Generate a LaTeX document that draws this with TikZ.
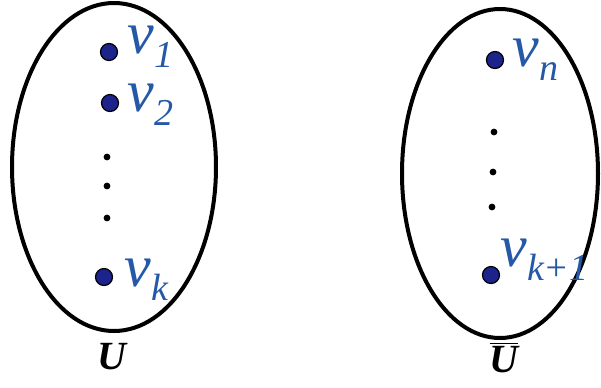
\documentclass[tikz,border=0pt]{standalone}
\usepackage{fontspec}
\setmainfont{Liberation Serif}
\usetikzlibrary{shapes.geometric}
\definecolor{lblblue}{RGB}{38,88,168}
\definecolor{dotblue}{RGB}{28,36,140}
\newcommand{\subf}{\fontsize{19}{19}\selectfont\itshape}
\newcommand{\vlab}[1]{\itshape v\raisebox{-7pt}{\subf #1}}
\begin{document}
\begin{tikzpicture}[x=0.5pt,y=-0.5pt,
  setbox/.style={ellipse, draw=black, line width=2pt, inner sep=0pt},
  vert/.style={circle, fill=dotblue, draw=black, line width=0.6pt, minimum size=8.5pt, inner sep=0pt},
  sdot/.style={circle, fill=black, minimum size=3.4pt, inner sep=0pt},
  vlabel/.style={anchor=base west, inner sep=0pt, text=lblblue, font=\fontsize{30}{34}\selectfont},
  setlabel/.style={anchor=base, inner sep=0pt, font=\fontsize{20}{24}\selectfont\bfseries\itshape}]
\useasboundingbox (0,0) rectangle (601,387);
% sets
\node[setbox, minimum width=102pt, minimum height=164pt] (U) at (114,167) {};
\node[setbox, minimum width=98pt, minimum height=164.5pt] (Ub) at (500,173.5) {};
% left vertices
\node[vert] (v1) at (109,52) {};
\node[vert] (v2) at (110,103) {};
\node[sdot] (d1) at (107,157) {};
\node[sdot] (d2) at (107,186) {};
\node[sdot] (d3) at (107,218) {};
\node[vert] (vk) at (104,277) {};
\node[vlabel] (l1) at (127,53) {\vlab{1}};
\node[vlabel] (l2) at (127,111) {\vlab{2}};
\node[vlabel] (lk) at (124,286) {\vlab{k}};
% right vertices
\node[vert] (vn) at (495,60) {};
\node[sdot] (e1) at (494,132) {};
\node[sdot] (e2) at (493,172) {};
\node[sdot] (e3) at (492,207) {};
\node[vert] (vk1) at (491,275) {};
\node[vlabel] (ln) at (512,66) {\vlab{n}};
\node[vlabel] (lk1) at (500,266) {\vlab{k+1}};
% set labels
\node[setlabel] (lU) at (112,369) {U};
\node[setlabel] (lUb) at (504,372) {$\overline{\mbox{\fontsize{20}{24}\selectfont\bfseries\itshape U}}$};
\end{tikzpicture}
\end{document}
